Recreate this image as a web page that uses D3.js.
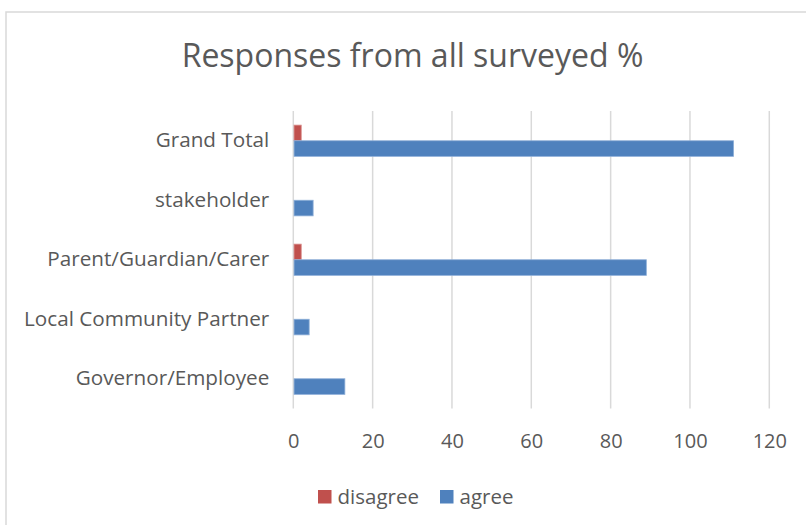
<!DOCTYPE html>
<html>
<head>
<meta charset="utf-8">
<script src="https://cdn.jsdelivr.net/npm/d3@7"></script>
<style>
    body { margin: 0; background: #fff; }
    text { font-family: "Open Sans", sans-serif; fill: #595959; }
</style>
</head>
<body>
<div id="chart"></div>
<script>
var width = 806;
var height = 525;

// data
var categories = ["Grand Total", "stakeholder", "Parent/Guardian/Carer", "Local Community Partner", "Governor/Employee"];
var seriesNames = ["disagree", "agree"];
var disagree = [2, 0, 2, 0, 0];
var agree = [111, 5, 89, 4, 13];
var ticks = [0, 20, 40, 60, 80, 100, 120];
var colours = { disagree: "#C0504D", agree: "#4F81BD" };
var strokes = { disagree: "#d88c8a", agree: "#8eafd8" };

var plot = { left: 293.3, right: 769.3, top: 111, bottom: 408.5 };

var svg = d3.select("#chart").append("svg")
    .attr("width", width)
    .attr("height", height);

// chart frame (cut off at right and bottom in the picture)
svg.append("rect")
    .attr("x", 6).attr("y", 12)
    .attr("width", width).attr("height", height)
    .attr("fill", "#fff")
    .attr("stroke", "#d9d9d9").attr("stroke-width", 1.5);

svg.append("text")
    .attr("x", 412.5).attr("y", 67)
    .attr("text-anchor", "middle")
    .style("font-size", "32px")
    .text("Responses from all surveyed %");

var x = d3.scaleLinear().domain([0, 120]).range([plot.left, plot.right]);
var y = d3.scaleBand().domain(categories).range([plot.top, plot.bottom]);
var inner = d3.scaleBand().domain(seriesNames).range([0, y.bandwidth()]).paddingOuter(0.905);

// gridlines
svg.append("g").selectAll("line")
    .data(ticks).enter().append("line")
    .attr("x1", d => x(d)).attr("x2", d => x(d))
    .attr("y1", plot.top).attr("y2", plot.bottom)
    .attr("stroke", "#d9d9d9").attr("stroke-width", 1.5);

var xAxis = d3.axisBottom(x).tickValues(ticks).tickSize(0).tickPadding(0);
var gx = svg.append("g")
    .attr("transform", "translate(0," + (plot.bottom + 25) + ")")
    .call(xAxis);
gx.select(".domain").remove();
gx.selectAll("text")
    .style("font-family", "'Open Sans', sans-serif")
    .style("font-size", "20px").attr("dy", "0.7em");

var yAxis = d3.axisLeft(y).tickSize(0).tickPadding(24);
var gy = svg.append("g")
    .attr("transform", "translate(" + plot.left + ",0)")
    .call(yAxis);
gy.select(".domain").remove();
gy.selectAll("text")
    .style("font-family", "'Open Sans', sans-serif")
    .style("font-size", "20.7px");

var rows = categories.map((c, i) => ({ cat: c, disagree: disagree[i], agree: agree[i] }));

seriesNames.forEach(s => {
    svg.append("g").selectAll("rect")
        .data(rows).enter().append("rect")
        .attr("x", x(0) + 0.75)
        .attr("y", d => y(d.cat) + inner(s))
        .attr("width", d => Math.max(0, x(d[s]) - x(0) - 0.75))
        .attr("height", inner.bandwidth())
        .attr("fill", colours[s])
        .attr("stroke", d => d[s] > 0 ? strokes[s] : "none")
        .attr("stroke-width", 0.8);
});

// legend
var legendItems = [
    { name: "disagree", x: 318 },
    { name: "agree", x: 440 }
];
var lg = svg.append("g").selectAll("g")
    .data(legendItems).enter().append("g")
    .attr("transform", d => "translate(" + d.x + ",490)");
lg.append("rect")
    .attr("width", 13.5).attr("height", 13.5)
    .attr("fill", d => colours[d.name]);
lg.append("text")
    .attr("x", 19.5).attr("y", 7)
    .attr("dy", "0.35em")
    .style("font-size", "20.5px")
    .text(d => d.name);
</script>
</body>
</html>
